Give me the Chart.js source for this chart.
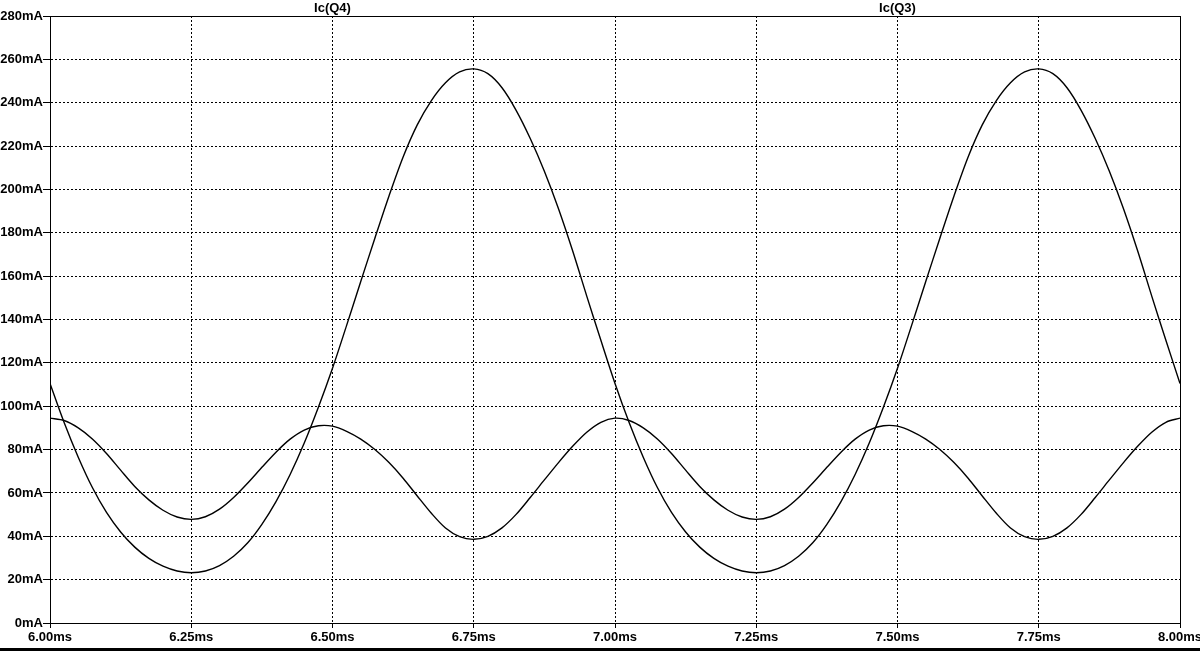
<!DOCTYPE html>
<html><head><meta charset="utf-8">
<script src="https://cdn.jsdelivr.net/npm/chart.js@4.4.1/dist/chart.umd.min.js"></script>
<style>html,body{margin:0;padding:0;background:#fff;overflow:hidden}</style>
</head><body>
<canvas id="c" width="1200" height="651"></canvas>
<script>
// ---- data (time in ms, current in mA) ----
const seriesNames = ['Ic(Q4)', 'Ic(Q3)'];
const seriesLabelTimes = [6.5, 7.5]; // ms where trace names sit above the plot

const times = [
  6.000, 6.025, 6.050, 6.075, 6.100, 6.125, 6.150, 6.175, 6.200, 6.225,
  6.250, 6.275, 6.300, 6.325, 6.350, 6.375, 6.400, 6.425, 6.450, 6.475,
  6.500, 6.525, 6.550, 6.575, 6.600, 6.625, 6.650, 6.675, 6.700, 6.725,
  6.750, 6.775, 6.800, 6.825, 6.850, 6.875, 6.900, 6.925, 6.950, 6.975,
  7.000, 7.025, 7.050, 7.075, 7.100, 7.125, 7.150, 7.175, 7.200, 7.225,
  7.250, 7.275, 7.300, 7.325, 7.350, 7.375, 7.400, 7.425, 7.450, 7.475,
  7.500, 7.525, 7.550, 7.575, 7.600, 7.625, 7.650, 7.675, 7.700, 7.725,
  7.750, 7.775, 7.800, 7.825, 7.850, 7.875, 7.900, 7.925, 7.950, 7.975,
  8.000
];

const bigValues = [
  110.5, 92.5, 76.5, 62.5, 51.0, 42.0, 35.0, 29.8, 26.2, 24.0,
  23.2, 24.0, 26.5, 30.8, 37.0, 45.5, 56.0, 68.5, 83.0, 99.5,
  117.5, 137.3, 157.5, 177.5, 197.0, 215.0, 229.8, 241.0, 249.2, 254.2,
  255.6, 253.4, 246.9, 236.5, 223.5, 208.4, 191.1, 171.7, 150.8, 130.4,
  110.5, 92.5, 76.5, 62.5, 51.0, 42.0, 35.0, 29.8, 26.2, 24.0,
  23.2, 24.0, 26.5, 30.8, 37.0, 45.5, 56.0, 68.5, 83.0, 99.5,
  117.5, 137.3, 157.5, 177.5, 197.0, 215.0, 229.8, 241.0, 249.2, 254.2,
  255.6, 253.4, 246.9, 236.5, 223.5, 208.4, 191.1, 171.7, 150.8, 130.4,
  110.5
];

const smallValues = [
  94.5, 93.4, 90.0, 84.9, 78.2, 70.5, 63.0, 56.8, 52.0, 48.9,
  47.8, 49.0, 52.5, 57.9, 64.6, 71.8, 78.8, 84.8, 89.0, 91.0,
  90.8, 88.4, 84.8, 80.0, 74.0, 66.8, 58.6, 50.6, 43.8, 39.8,
  38.6, 40.0, 43.9, 50.1, 57.9, 66.0, 74.0, 81.5, 88.0, 92.6,
  94.5, 93.4, 90.0, 84.9, 78.2, 70.5, 63.0, 56.8, 52.0, 48.9,
  47.8, 49.0, 52.5, 57.9, 64.6, 71.8, 78.8, 84.8, 89.0, 91.0,
  90.8, 88.4, 84.8, 80.0, 74.0, 66.8, 58.6, 50.6, 43.8, 39.8,
  38.6, 40.0, 43.9, 50.1, 57.9, 66.0, 74.0, 81.5, 88.0, 92.6,
  94.5
];

const xMin = 6.0, xMax = 8.0, xStep = 0.25;
const yMin = 0, yMax = 280, yStep = 20;

const FONT = '"Liberation Sans", Arial, sans-serif';

function pts(t, v) { return t.map((x, i) => ({x: x, y: v[i]})); }

const decorPlugin = {
  id: 'decor',
  afterDraw(chart) {
    const ctx = chart.ctx, a = chart.chartArea, xs = chart.scales.x;
    ctx.save();
    ctx.strokeStyle = '#000';
    ctx.lineWidth = 1;
    ctx.setLineDash([]);
    ctx.strokeRect(Math.round(a.left) + 0.5, Math.round(a.top) + 0.5, Math.round(a.right - a.left), Math.round(a.bottom - a.top));
    ctx.fillStyle = '#000';
    ctx.font = 'bold 13px ' + FONT;
    ctx.textAlign = 'center';
    ctx.textBaseline = 'middle';
    seriesNames.forEach((n, i) => ctx.fillText(n, xs.getPixelForValue(seriesLabelTimes[i]), 8));
    ctx.fillRect(0, 648, 1200, 3);
    ctx.restore();
  }
};

new Chart(document.getElementById('c'), {
  type: 'line',
  data: {
    datasets: [
      {label: seriesNames[0], data: pts(times, bigValues), borderColor: '#000', borderWidth: 1.4, pointRadius: 0, tension: 0.3, fill: false},
      {label: seriesNames[1], data: pts(times, smallValues), borderColor: '#000', borderWidth: 1.4, pointRadius: 0, tension: 0.3, fill: false}
    ]
  },
  options: {
    responsive: false,
    animation: false,
    events: [],
    layout: {padding: {top: 16, right: 20, bottom: 0, left: 0}},
    plugins: {legend: {display: false}, tooltip: {enabled: false}, title: {display: false}},
    scales: {
      x: {
        type: 'linear', min: xMin, max: xMax,
        afterFit(s) { s.height = 28; s.paddingLeft = 0; s.paddingRight = 0; },
        ticks: {stepSize: xStep, autoSkip: false, maxRotation: 0, minRotation: 0, padding: 2, color: '#000',
                font: {family: FONT, size: 13, weight: 'bold'},
                callback: v => v.toFixed(2) + 'ms'},
        grid: {color: '#000', lineWidth: 1, tickLength: 5, tickColor: '#000'},
        border: {display: true, color: '#000', width: 1, dash: [2, 2]}
      },
      y: {
        type: 'linear', min: yMin, max: yMax,
        afterFit(s) { s.width = 50; s.paddingTop = 0; s.paddingBottom = 0; },
        ticks: {stepSize: yStep, autoSkip: false, padding: 0, color: '#000',
                font: {family: FONT, size: 13, weight: 'bold'},
                callback: v => v + 'mA'},
        grid: {color: '#000', lineWidth: 1, tickLength: 7, tickColor: '#000'},
        border: {display: true, color: '#000', width: 1, dash: [2, 2]}
      }
    }
  },
  plugins: [decorPlugin]
});
</script>
</body></html>
